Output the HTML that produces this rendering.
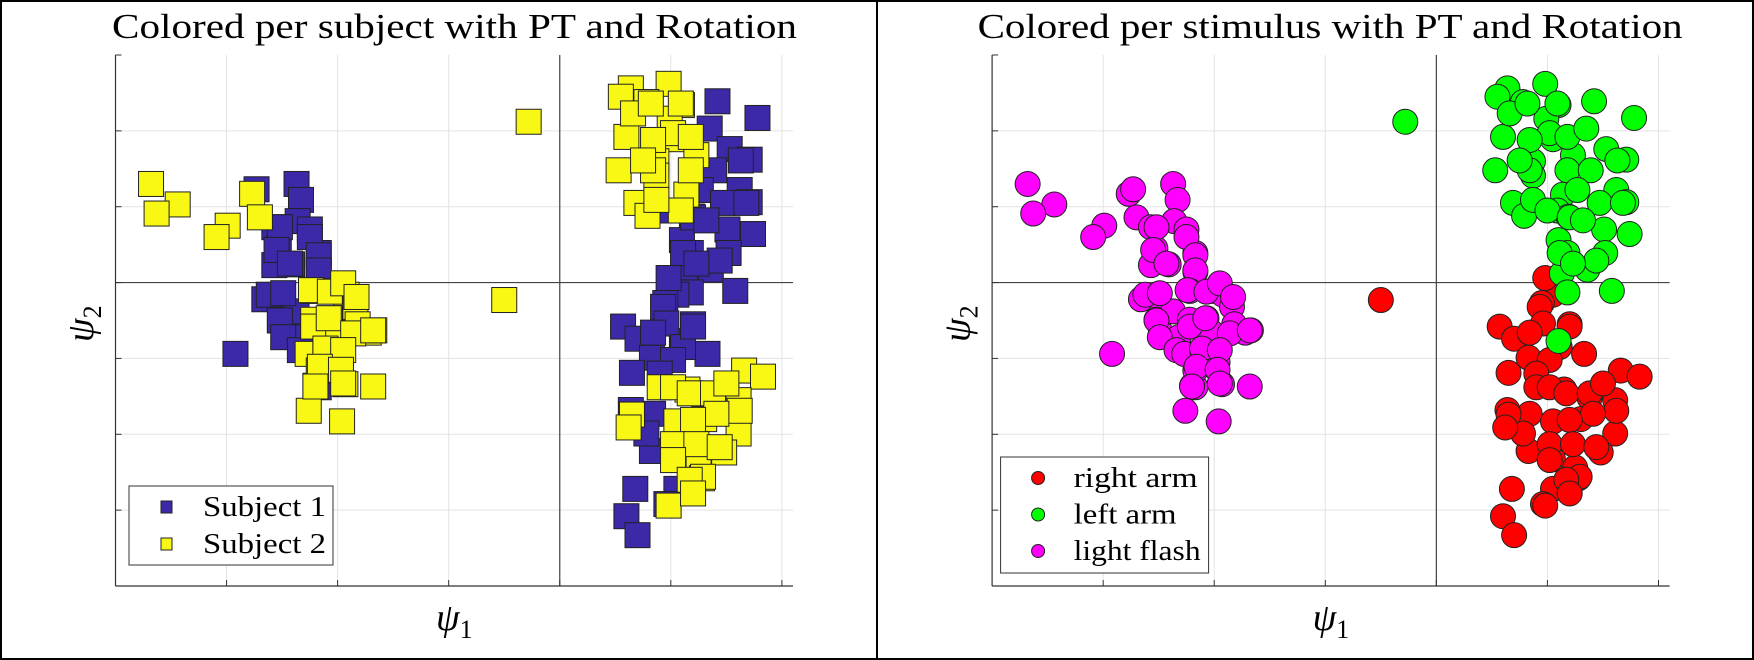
<!DOCTYPE html>
<html><head><meta charset="utf-8">
<style>
html,body{margin:0;padding:0;background:#fff;}
svg{display:block;}
text{font-family:"Liberation Serif",serif;fill:#000;}
</style></head>
<body>
<svg id="fig" width="1754" height="660" viewBox="0 0 1754 660" xmlns="http://www.w3.org/2000/svg">
<rect x="1" y="1" width="1752" height="658" fill="#fff" stroke="#000" stroke-width="2"/>
<line x1="877" y1="0" x2="877" y2="660" stroke="#000" stroke-width="2"/>
</svg>
<script>
// data: x (psi1), y (psi2), subject, stimulus
const ptX = [-3.68,-3.44,-3.63,-2.99,-3.09,-2.77,-2.70,
-2.73,-2.37,-2.33,-2.36,-2.57,-2.25,-2.53,-2.17,-2.41,-2.17,-2.57,-2.66,-2.50,-2.62,-2.52,-2.48,-2.37,-2.32,-2.92,-2.17,
-2.52,-2.25,-2.55,-2.17,-2.43,-2.17,-2.49,-2.52,-2.49,-2.34,
-2.22,-2.02,-1.92,-1.84,-2.07,-2.22,-2.02,-1.72,-1.67,-1.82,-2.27,-2.11,-1.97,-2.20,-1.93,-1.68,-2.26,-1.96,-2.17,
-2.24,-2.07,-1.95,-1.83,-2.22,-2.08,-1.86,-1.68,-2.11,-1.95,-2.16,-1.97,-2.20,-1.95,
-0.28,-0.50,
0.64,0.98,0.55,0.78,1.10,0.60,0.99,1.05,1.23,0.87,0.53,0.87,1.14,0.69,0.79,
0.84,1.18,1.09,0.87,1.02,0.84,1.18,0.66,0.82,1.09,0.75,
1.42,1.78,1.35,1.53,1.71,1.62,1.71,1.51,1.74,1.19,1.10,1.52,1.18,1.36,1.13,1.00,1.58,1.18,1.05,
1.39,1.63,1.27,1.47,1.20,1.32,1.68,1.11,1.44,1.23,
0.95,1.20,0.57,0.70,1.10,1.33,0.83,0.65,0.83,0.68,0.60,0.70,1.05,0.98,
0.93,0.96,0.84,1.11,1.02,1.20,0.90,0.84,0.78,0.64,0.96,
0.90,1.15,1.38,1.66,1.83,1.61,0.65,0.62,1.05,1.30,1.61,1.48,1.05,1.25,1.28,1.20,0.98,
1.02,1.17,1.38,1.50,1.62,1.41,1.20,1.02,1.23,1.44,1.02,1.29,1.17,1.20];
const ptY = [1.30,1.03,0.91,0.75,0.60,1.17,0.86,
1.23,1.30,1.09,0.81,0.73,0.70,0.45,0.39,0.24,0.14,0.23,-0.22,-0.19,-0.16,-0.49,-0.66,-0.38,-0.72,-0.94,-1.38,
0.73,0.60,0.43,0.36,0.25,0.16,-0.14,-0.50,-0.72,-0.89,
-0.11,-0.11,-0.16,-0.32,-0.47,-0.49,-0.66,-0.66,-0.63,-0.55,-0.94,-0.88,-1.05,-1.36,-1.34,-1.37,-1.69,-1.83,-1.16,
-0.10,-0.12,-0.01,-0.19,-0.58,-0.47,-0.67,-0.63,-0.87,-0.89,-1.11,-1.15,-1.37,-1.33,
2.12,-0.23,
2.56,2.62,2.45,2.38,2.34,1.92,2.16,1.89,1.68,1.60,1.48,1.41,1.16,1.05,0.88,
1.48,1.48,0.95,1.09,1.97,1.88,1.92,2.23,2.36,2.36,1.61,
2.39,2.17,2.03,1.76,1.62,1.22,1.06,0.70,0.64,0.87,0.56,0.39,0.39,0.17,0.12,0.95,-0.11,-0.13,-0.16,
1.48,1.61,1.22,1.05,0.86,0.82,1.05,0.39,0.29,0.25,
-0.27,-0.55,-0.58,-0.74,-0.77,-0.94,-0.99,-1.19,-2.22,-2.72,-3.08,-3.33,-2.72,0.06,
-0.32,-0.54,-0.66,-0.85,-1.02,-0.58,-1.20,-1.73,-1.99,-1.68,-2.92,
-1.38,-1.41,-1.52,-1.16,-1.24,-1.55,-1.74,-1.91,-1.83,-1.80,-1.99,-2.24,-2.33,-2.44,-2.58,-2.77,-2.94,
-1.38,-1.46,-1.46,-1.33,-1.69,-1.73,-1.81,-2.13,-2.13,-2.17,-2.34,-2.56,-2.60,-2.78];
const ptSubj = [2,2,2,2,2,2,2,
1,1,1,1,1,1,1,1,1,1,1,1,1,1,1,1,1,1,1,1,
1,1,1,1,1,1,1,1,1,1,
2,2,2,2,2,2,2,2,2,2,2,2,2,2,2,2,2,2,2,
2,2,2,2,2,2,2,2,2,2,2,2,2,2,
2,2,
2,2,2,2,2,2,2,2,2,2,2,2,2,2,2,
2,2,2,2,2,2,2,2,2,2,2,
1,1,1,1,1,1,1,1,1,1,1,1,1,1,1,1,1,1,1,
1,1,1,1,1,1,1,1,1,1,
1,1,1,1,1,1,1,1,1,1,1,1,1,1,
1,1,1,1,1,1,1,1,1,1,1,
2,2,2,2,2,2,2,2,2,2,2,2,2,2,2,2,2,
2,2,2,2,2,2,2,2,2,2,2,2,2,2];
const ptStim = ['m','m','m','m','m','m','m',
'm','m','m','m','m','m','m','m','m','m','m','m','m','m','m','m','m','m','m','m',
'm','m','m','m','m','m','m','m','m','m',
'm','m','m','m','m','m','m','m','m','m','m','m','m','m','m','m','m','m','m',
'm','m','m','m','m','m','m','m','m','m','m','m','m','m',
'g','r',
'g','g','g','g','g','g','g','g','g','g','g','g','g','g','g',
'g','g','g','g','g','g','g','g','g','g','g',
'g','g','g','g','g','g','g','g','g','g','g','g','g','g','g','g','g','g','r',
'g','g','g','g','g','g','g','g','g','g',
'r','r','r','r','g','r','r','r','r','r','r','r','r','r',
'r','r','r','r','r','r','r','r','r','r','r',
'r','r','r','r','r','r','r','r','r','r','r','r','r','r','r','r','r',
'r','r','r','r','r','r','r','r','r','r','r','r','r','r'];
const xTicks = [-3,-2,-1,0,1,2];
const yTicks = [-3,-2,-1,0,1,2];
const subjNames = ['Subject 1','Subject 2'];
const stimNames = ['right arm','left arm','light flash'];

const NS='http://www.w3.org/2000/svg';
const svg=document.getElementById('fig');
function mk(tag,attrs,parent){const e=document.createElementNS(NS,tag);for(const k in attrs)e.setAttribute(k,attrs[k]);(parent||svg).appendChild(e);return e;}
const X0=115.5, X1=793, Y0=55, Y1=586, xMin=-4, xMax=2.1, yMin=-4, yMax=3;
const sx=v=>X0+(v-xMin)/(xMax-xMin)*(X1-X0);
const sy=v=>Y1-(v-yMin)/(yMax-yMin)*(Y1-Y0);

function axes(g){
  xTicks.forEach(t=>{const l=mk('line',{x1:sx(t),x2:sx(t),y1:Y0,y2:Y1,stroke:'#e3e3e3','stroke-width':1},g);
    
    });
  yTicks.forEach(t=>{const l=mk('line',{x1:X0,x2:X1,y1:sy(t),y2:sy(t),stroke:'#e3e3e3','stroke-width':1},g);
    
    });
  const zx=mk('line',{x1:sx(0),x2:sx(0),y1:Y0,y2:Y1,stroke:'#444','stroke-width':1.2},g);
  
  
  const zy=mk('line',{x1:X0,x2:X1,y1:sy(0),y2:sy(0),stroke:'#444','stroke-width':1.2},g);
  
  
  const ax=mk('line',{x1:X0,x2:X1,y1:Y1,y2:Y1,stroke:'#333','stroke-width':1.2},g);
  
  
  const ay=mk('line',{x1:X0,x2:X0,y1:Y0,y2:Y1,stroke:'#333','stroke-width':1.2},g);
  
  
  xTicks.forEach(t=>{const l=mk('line',{x1:sx(t),x2:sx(t),y1:Y1,y2:Y1-6,stroke:'#333','stroke-width':1},g);
    
    });
  yTicks.concat([3]).forEach(t=>{const l=mk('line',{x1:X0,x2:X0+6,y1:sy(t),y2:sy(t),stroke:'#333','stroke-width':1},g);
    
    });
  const xl=mk('text',{x:436,y:630,'font-size':38,'font-style':'italic'},g);
  xl.innerHTML='ψ<tspan font-size="26" font-style="normal" dy="8">1</tspan>';
  
  
  const yl=mk('text',{x:0,y:0,'font-size':38,'font-style':'italic',transform:'translate(93,342) rotate(-90)'},g);
  yl.innerHTML='ψ<tspan font-size="26" font-style="normal" dy="8">2</tspan>';
  
  
}

// Left panel
const gL=mk('g',{});


axes(gL);
const tL=mk('text',{x:112,y:38,'font-size':35,textLength:685,lengthAdjust:'spacingAndGlyphs'},gL);
tL.textContent='Colored per subject with PT and Rotation';


const subjCol={1:'#3b29a8',2:'#f8f814'};
[1,2].forEach(s=>{ptX.forEach((x,i)=>{if(ptSubj[i]!==s)return;
  const r=mk('rect',{x:sx(x)-12.5,y:sy(ptY[i])-12.5,width:25,height:25,fill:subjCol[s],stroke:'#222','stroke-width':1},gL);
  
  });});
const lgL=mk('g',{},gL);


mk('rect',{x:129,y:486,width:204,height:79,fill:'#fff',stroke:'#333','stroke-width':1},lgL);
subjNames.forEach((n,i)=>{const y=507+i*37;
  const m=mk('rect',{x:161,y:y-6,width:11,height:12,fill:subjCol[i+1],stroke:'#222','stroke-width':1},lgL);
  
  
  const t=mk('text',{x:203,y:y+9,'font-size':29,textLength:123,lengthAdjust:'spacingAndGlyphs'},lgL);t.textContent=n;
  
  });

// Right panel
const gR=mk('g',{transform:'translate(876.6,0)'});


axes(gR);
const tR=mk('text',{x:101,y:38,'font-size':35,textLength:705,lengthAdjust:'spacingAndGlyphs'},gR);
tR.textContent='Colored per stimulus with PT and Rotation';


const stimCol={r:'#ff0000',g:'#00ff00',m:'#ff00ff'};
['r','g','m'].forEach(s=>{ptX.forEach((x,i)=>{if(ptStim[i]!==s)return;
  const c=mk('circle',{cx:sx(x),cy:sy(ptY[i]),r:12.5,fill:stimCol[s],stroke:'#222','stroke-width':1},gR);
  
  });});
const lgR=mk('g',{},gR);


mk('rect',{x:124,y:457,width:208,height:116,fill:'#fff',stroke:'#333','stroke-width':1},lgR);
const stimW=[124,103,127];
['r','g','m'].forEach((s,i)=>{const y=478+i*36.5;
  const m=mk('circle',{cx:161.5,cy:y,r:6.5,fill:stimCol[s],stroke:'#222','stroke-width':1},lgR);
  
  
  const t=mk('text',{x:197,y:y+9,'font-size':29,textLength:stimW[i],lengthAdjust:'spacingAndGlyphs'},lgR);t.textContent=stimNames[i];
  
  });
</script>
</body></html>
